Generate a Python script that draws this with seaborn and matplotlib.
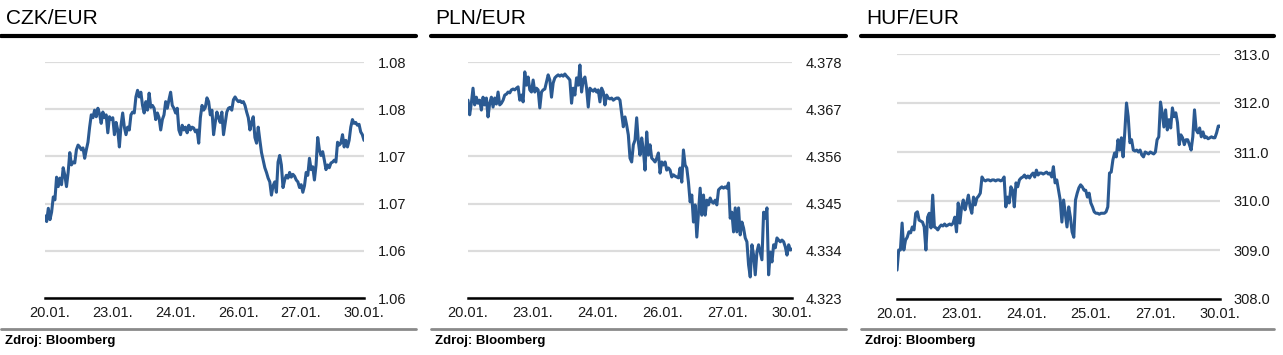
import numpy as np
import pandas as pd
import matplotlib
matplotlib.use("Agg")
import matplotlib.pyplot as plt
import seaborn as sns
from matplotlib.lines import Line2D

# Kurzy mien 20.01. - 30.01. (odcitane z grafu)
czk_eur = [1.0687, 1.0681, 1.0695, 1.0683, 1.0691, 1.0707, 1.0704, 1.0728, 1.0718, 1.0727,
           1.0720, 1.0738, 1.0730, 1.0718, 1.0733, 1.0754, 1.0741, 1.0744, 1.0743, 1.0757,
           1.0762, 1.0760, 1.0757, 1.0759, 1.0748, 1.0757, 1.0765, 1.0781, 1.0794, 1.0791,
           1.0799, 1.0792, 1.0801, 1.0795, 1.0785, 1.0797, 1.0791, 1.0794, 1.0775, 1.0792,
           1.0789, 1.0791, 1.0773, 1.0786, 1.0778, 1.0760, 1.0783, 1.0796, 1.0781, 1.0773,
           1.0781, 1.0778, 1.0794, 1.0797, 1.0796, 1.0813, 1.0820, 1.0813, 1.0818, 1.0804,
           1.0796, 1.0808, 1.0799, 1.0817, 1.0802, 1.0804, 1.0801, 1.0789, 1.0796, 1.0791,
           1.0778, 1.0789, 1.0794, 1.0808, 1.0801, 1.0810, 1.0818, 1.0804, 1.0801, 1.0796,
           1.0801, 1.0778, 1.0773, 1.0783, 1.0778, 1.0781, 1.0775, 1.0783, 1.0778, 1.0781,
           1.0780, 1.0776, 1.0778, 1.0764, 1.0791, 1.0804, 1.0799, 1.0802, 1.0812, 1.0808,
           1.0794, 1.0799, 1.0773, 1.0786, 1.0797, 1.0791, 1.0786, 1.0797, 1.0773, 1.0785,
           1.0797, 1.0801, 1.0802, 1.0799, 1.0810, 1.0813, 1.0810, 1.0808, 1.0809, 1.0807,
           1.0808, 1.0804, 1.0797, 1.0791, 1.0778, 1.0786, 1.0792, 1.0770, 1.0764, 1.0781,
           1.0767, 1.0754, 1.0746, 1.0738, 1.0733, 1.0727, 1.0723, 1.0709, 1.0719, 1.0723,
           1.0712, 1.0744, 1.0751, 1.0741, 1.0717, 1.0725, 1.0730, 1.0727, 1.0733, 1.0728,
           1.0731, 1.0729, 1.0725, 1.0723, 1.0717, 1.0720, 1.0712, 1.0719, 1.0733, 1.0730,
           1.0748, 1.0736, 1.0739, 1.0725, 1.0741, 1.0770, 1.0757, 1.0751, 1.0755, 1.0746,
           1.0736, 1.0741, 1.0738, 1.0743, 1.0744, 1.0746, 1.0744, 1.0765, 1.0762, 1.0764,
           1.0773, 1.0760, 1.0767, 1.0760, 1.0767, 1.0781, 1.0789, 1.0785, 1.0786, 1.0783,
           1.0784, 1.0776, 1.0773, 1.0767]

pln_eur = [4.3691, 4.3657, 4.3684, 4.3719, 4.3680, 4.3698, 4.3684, 4.3691, 4.3668, 4.3698,
           4.3680, 4.3696, 4.3652, 4.3684, 4.3698, 4.3675, 4.3696, 4.3682, 4.3710, 4.3680,
           4.3684, 4.3691, 4.3703, 4.3705, 4.3710, 4.3708, 4.3715, 4.3717, 4.3715, 4.3719,
           4.3722, 4.3691, 4.3703, 4.3687, 4.3757, 4.3726, 4.3745, 4.3715, 4.3710, 4.3738,
           4.3710, 4.3719, 4.3715, 4.3673, 4.3710, 4.3715, 4.3717, 4.3733, 4.3750, 4.3738,
           4.3698, 4.3731, 4.3743, 4.3747, 4.3750, 4.3747, 4.3750, 4.3747, 4.3752, 4.3747,
           4.3743, 4.3738, 4.3684, 4.3719, 4.3703, 4.3743, 4.3726, 4.3773, 4.3710, 4.3738,
           4.3745, 4.3719, 4.3675, 4.3719, 4.3715, 4.3712, 4.3717, 4.3710, 4.3715, 4.3687,
           4.3719, 4.3710, 4.3680, 4.3703, 4.3696, 4.3694, 4.3696, 4.3691, 4.3694, 4.3696,
           4.3696, 4.3691, 4.3661, 4.3629, 4.3652, 4.3633, 4.3610, 4.3556, 4.3547, 4.3587,
           4.3598, 4.3650, 4.3594, 4.3563, 4.3603, 4.3575, 4.3528, 4.3617, 4.3563, 4.3587,
           4.3556, 4.3552, 4.3547, 4.3556, 4.3568, 4.3521, 4.3547, 4.3540, 4.3547, 4.3528,
           4.3533, 4.3528, 4.3512, 4.3517, 4.3514, 4.3512, 4.3510, 4.3533, 4.3500, 4.3575,
           4.3540, 4.3533, 4.3500, 4.3454, 4.3470, 4.3407, 4.3447, 4.3372, 4.3430, 4.3486,
           4.3423, 4.3470, 4.3423, 4.3458, 4.3447, 4.3463, 4.3454, 4.3451, 4.3458, 4.3447,
           4.3482, 4.3486, 4.3489, 4.3486, 4.3489, 4.3486, 4.3498, 4.3416, 4.3430, 4.3384,
           4.3440, 4.3384, 4.3440, 4.3377, 4.3407, 4.3393, 4.3370, 4.3361, 4.3307, 4.3279,
           4.3354, 4.3330, 4.3284, 4.3337, 4.3354, 4.3337, 4.3319, 4.3430, 4.3416, 4.3440,
           4.3284, 4.3337, 4.3314, 4.3354, 4.3347, 4.3370, 4.3365, 4.3361, 4.3365, 4.3361,
           4.3349, 4.3330, 4.3354, 4.3342, 4.3344]

huf_eur = [308.59, 309.00, 309.00, 309.55, 309.00, 309.20, 309.26, 309.37, 309.35, 309.47,
           309.41, 309.75, 309.78, 309.61, 309.59, 309.57, 309.47, 309.00, 309.67, 309.75,
           309.45, 310.12, 309.47, 309.45, 309.41, 309.47, 309.51, 309.49, 309.53, 309.49,
           309.51, 309.53, 309.51, 309.55, 309.67, 309.37, 309.96, 309.55, 309.88, 310.02,
           309.82, 309.96, 310.12, 309.88, 309.75, 310.08, 309.92, 310.06, 310.10, 310.16,
           310.49, 310.43, 310.41, 310.43, 310.43, 310.41, 310.43, 310.43, 310.41, 310.43,
           310.43, 310.41, 310.43, 310.49, 309.88, 310.08, 309.96, 310.29, 310.22, 309.88,
           310.37, 310.29, 310.43, 310.47, 310.49, 310.53, 310.47, 310.51, 310.47, 310.53,
           310.57, 310.49, 310.63, 310.53, 310.57, 310.57, 310.55, 310.57, 310.59, 310.55,
           310.57, 310.49, 310.70, 310.37, 310.43, 310.22, 310.02, 309.57, 310.02, 309.75,
           309.47, 309.88, 309.67, 309.37, 309.26, 310.02, 310.16, 310.27, 310.33, 310.29,
           310.22, 310.22, 310.08, 310.16, 309.96, 309.88, 309.78, 309.75, 309.75, 309.73,
           309.75, 309.75, 309.75, 309.78, 309.88, 310.57, 310.59, 310.84, 310.98, 310.90,
           311.25, 311.04, 311.29, 310.90, 311.41, 312.00, 311.72, 311.19, 311.25, 311.04,
           311.02, 311.04, 311.00, 311.04, 310.94, 310.90, 311.00, 310.98, 310.96, 311.00,
           310.98, 310.96, 311.00, 311.25, 311.31, 312.02, 311.80, 311.51, 311.86, 311.45,
           311.66, 311.49, 311.90, 311.72, 311.80, 311.60, 311.15, 311.35, 311.29, 311.15,
           311.25, 311.25, 311.15, 311.04, 311.31, 311.86, 311.45, 311.39, 311.49, 311.31,
           311.41, 311.29, 311.31, 311.27, 311.29, 311.31, 311.29, 311.29, 311.39, 311.53,
           311.53]

czk_dates = ["20.01.", "23.01.", "24.01.", "26.01.", "27.01.", "30.01."]
pln_dates = ["20.01.", "23.01.", "24.01.", "26.01.", "27.01.", "30.01."]
huf_dates = ["20.01.", "23.01.", "24.01.", "25.01.", "27.01.", "30.01."]

czk_ticks = [1.060, 1.065, 1.070, 1.075, 1.080, 1.085]
czk_ticklabels = ["1.06", "1.06", "1.07", "1.07", "1.08", "1.08"]
pln_ticks = [4.323, 4.334, 4.345, 4.356, 4.367, 4.378]
pln_ticklabels = ["4.323", "4.334", "4.345", "4.356", "4.367", "4.378"]
huf_ticks = [308.0, 309.0, 310.0, 311.0, 312.0, 313.0]
huf_ticklabels = ["308.0", "309.0", "310.0", "311.0", "312.0", "313.0"]

sns.set_style("white")
plt.rcParams['font.family'] = ['Liberation Sans', 'DejaVu Sans']

LINE_COLOR = "#2b5a92"
W, H = 1283, 355

fig = plt.figure(figsize=(W / 100, H / 100), dpi=100)


def draw_panel(rect, values, x_start, ticks, ticklabels, dates, title, title_x, band):
    ax = fig.add_axes(rect)
    df = pd.DataFrame({"t": np.linspace(x_start, 5.0, len(values)), "kurz": values})
    sns.lineplot(data=df, x="t", y="kurz", ax=ax, color=LINE_COLOR, linewidth=2.2)

    ax.set_xlim(x_start, 5.0)
    ax.set_ylim(ticks[0], ticks[-1])
    ax.set_xticks(range(len(dates)))
    ax.set_xticklabels(dates, fontsize=10.5, color="#1a1a1a")
    ax.set_yticks(ticks)
    ax.set_yticklabels(ticklabels, fontsize=10.5, color="#1a1a1a")
    ax.yaxis.tick_right()
    ax.tick_params(axis="y", length=0, pad=10)
    ax.tick_params(axis="x", length=3, width=1.5, color="black", pad=3, direction="out")
    for lab in ax.get_yticklabels():
        lab.set_horizontalalignment("left")
    ax.set_xlabel("")
    ax.set_ylabel("")
    ax.grid(axis="y", color="#dcdcdc", linewidth=1.6)
    ax.grid(axis="x", visible=False)
    ax.set_axisbelow(True)
    for side in ["left", "right", "top"]:
        ax.spines[side].set_visible(False)
    ax.spines["bottom"].set_color("black")
    ax.spines["bottom"].set_linewidth(1.8)
    ax.spines["bottom"].set_zorder(5)

    # hlavicka a paticka panelu
    x0, x1 = band
    fig.text(title_x / W, 1 - 18 / H, title, fontsize=15, va="center", ha="left", color="black")
    fig.add_artist(Line2D([x0 / W, x1 / W], [1 - 36 / H, 1 - 36 / H], color="black", linewidth=3))
    fig.add_artist(Line2D([x0 / W, x1 / W], [1 - 329 / H, 1 - 329 / H], color="#8a8a8a", linewidth=2))
    fig.text((x0 + 4) / W, 1 - 341 / H, "Zdroj: Bloomberg", fontsize=9.5, fontweight="bold",
             va="center", ha="left", color="black")
    return ax


draw_panel([45 / W, 1 - 298 / H, 319 / W, 236 / H], czk_eur, -0.068, czk_ticks, czk_ticklabels,
           czk_dates, "CZK/EUR", 6, (1, 416))
draw_panel([468 / W, 1 - 298 / H, 324 / W, 236 / H], pln_eur, 0.0, pln_ticks, pln_ticklabels,
           pln_dates, "PLN/EUR", 435, (431, 846))
draw_panel([897 / W, 1 - 299 / H, 323 / W, 245 / H], huf_eur, 0.0, huf_ticks, huf_ticklabels,
           huf_dates, "HUF/EUR", 866, (861, 1274))

fig.savefig("out.png", dpi=100)
